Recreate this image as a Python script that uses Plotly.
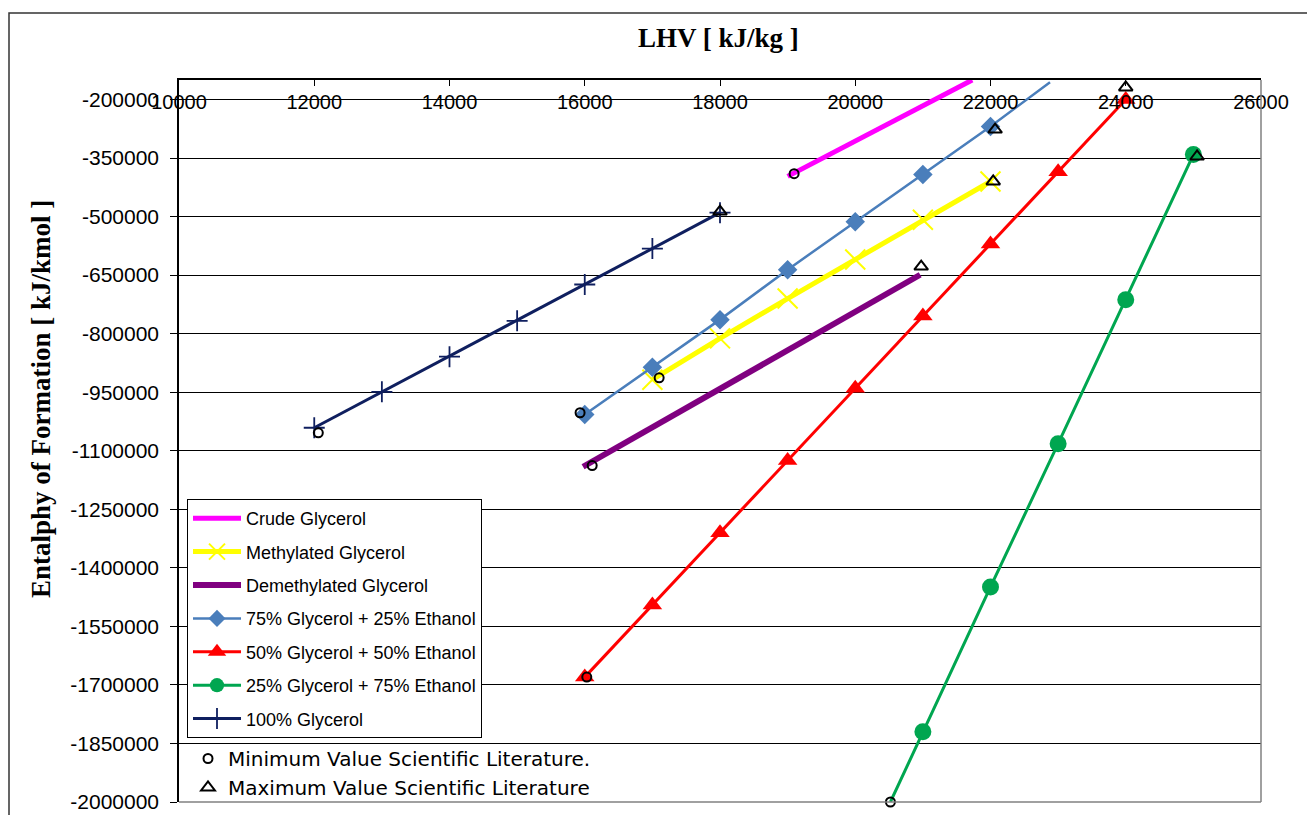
import plotly.graph_objects as go

# ---------------- data ----------------
crude_x = [19000, 21730]
crude_y = [-397000, -150000]

meth_x = [17000, 18000, 19000, 20000, 21000, 22000]
meth_y = [-918000, -812000, -710000, -610000, -508000, -410000]

demeth_x = [15975, 20960]
demeth_y = [-1141000, -649000]

g75_x = [16000, 17000, 18000, 19000, 20000, 21000, 22000, 22880]
g75_y = [-1007000, -886000, -764000, -636000, -513000, -392000, -269000, -156000]

g50_x = [16000, 17000, 18000, 19000, 20000, 21000, 22000, 23000, 24000]
g50_y = [-1680000, -1495000, -1310000, -1125000, -940000, -755000, -570000, -385000, -200000]

g25_x = [20520, 21000, 22000, 23000, 24000, 25000]
g25_y = [-2000000, -1820000, -1449000, -1082000, -713000, -341000]

g100_x = [12000, 13000, 14000, 15000, 16000, 17000, 18000]
g100_y = [-1041000, -949000, -859000, -767000, -674000, -582000, -490000]

lit_min_x = [12060, 19096, 15931, 17100, 16110, 16030, 20520]
lit_min_y = [-1054000, -390000, -1002600, -913000, -1138000, -1680000, -2000000]

lit_max_x = [18000, 21760, 22068, 22880, 22040, 20975, 24000, 25055]
lit_max_y = [-487000, -138000, -277000, -149000, -410000, -628000, -169000, -346000]

x_ticks = list(range(10000, 26001, 2000))
y_ticks = list(range(-2000000, -199999, 150000))

# ---------------- figure ----------------
OFF = 8                      # page body margin of the browser
W, H = 1315 - OFF, 815 - OFF
L, R, T, B = 179 - OFF, 1261 - OFF, 80 - OFF, 802 - OFF

fig = go.Figure()

def add_line(name, xs, ys, color, width, symbol=None, msize=0, mline=0, sizes=None, grp=None):
    mode = "lines+markers" if symbol else "lines"
    marker = None
    if symbol:
        marker = dict(symbol=symbol, size=sizes if sizes else msize, color=color, opacity=1,
                      line=dict(color=color, width=mline))
    fig.add_trace(go.Scatter(x=xs, y=ys, mode=mode, name=name,
                             line=dict(color=color, width=width),
                             marker=marker, legendgroup=grp, legend="legend"))

add_line("Crude Glycerol", crude_x, crude_y, "#FF00FF", 5, grp="a")
add_line("Methylated Glycerol", meth_x, meth_y, "#FFFF00", 5, symbol="x-thin", msize=20, mline=2, grp="b")
add_line("Demethylated Glycerol", demeth_x, demeth_y, "#800080", 6, grp="c")
add_line("75% Glycerol + 25% Ethanol", g75_x, g75_y, "#4A7EBB", 2.5, symbol="diamond",
         sizes=[15] * 7 + [0], grp="d")
add_line("50% Glycerol + 50% Ethanol", g50_x, g50_y, "#FF0000", 3, symbol="triangle-up", msize=17, grp="e")
add_line("25% Glycerol + 75% Ethanol", g25_x, g25_y, "#00A650", 3, symbol="circle",
         sizes=[0] + [17] * 5, grp="f")
add_line("100% Glycerol", g100_x, g100_y, "#0F1F5F", 3, symbol="cross-thin", msize=15, mline=1.8, grp="g")

fig.add_trace(go.Scatter(x=lit_min_x, y=lit_min_y, mode="markers",
                         name="Minimum Value Scientific Literature.",
                         marker=dict(symbol="circle-open", size=9, color="black", line=dict(width=2)),
                         cliponaxis=False, legend="legend2"))
fig.add_trace(go.Scatter(x=lit_max_x, y=lit_max_y, mode="markers",
                         name="Maximum Value Scientific Literature",
                         marker=dict(symbol="triangle-up-open", size=12, color="black", line=dict(width=2)),
                         cliponaxis=False, legend="legend2"))

# screen pixel -> paper coordinates
def px_x(p):
    return (p - OFF - L) / (R - L)

def px_y(p):
    return (B - (p - OFF)) / (B - T)

fig.update_layout(
    template="none",
    width=W, height=H,
    margin=dict(l=L, r=W - R, t=T, b=H - B, pad=0, autoexpand=False),
    paper_bgcolor="white", plot_bgcolor="white",
    font=dict(family="Arial, Liberation Sans", size=20, color="black"),
    xaxis=dict(range=[10000, 26000], side="top", tickvals=x_ticks,
               ticktext=[str(v) for v in x_ticks],
               ticks="inside", ticklen=6, tickcolor="black",
               ticklabelposition="inside", ticklabeloverflow="allow",
               ticklabelstandoff=10,
               showline=True, linecolor="black", linewidth=1.5,
               showgrid=False, zeroline=False, automargin=False,
               tickfont=dict(family="Arial, Liberation Sans", size=20, color="black")),
    yaxis=dict(range=[-2000000, -150000], tickvals=y_ticks,
               ticktext=[str(v) for v in y_ticks],
               ticks="outside", ticklen=7, tickcolor="black",
               ticklabelstandoff=7,
               showline=True, linecolor="black", linewidth=1.5,
               showgrid=True, gridcolor="black", gridwidth=1, zeroline=False,
               automargin=False,
               tickfont=dict(family="Arial, Liberation Sans", size=21, color="black")),
    showlegend=True,
    legend=dict(x=px_x(187), y=px_y(499), xanchor="left", yanchor="top",
                bgcolor="white", bordercolor="black", borderwidth=1,
                font=dict(family="Arial, Liberation Sans", size=18, color="black"),
                traceorder="grouped", tracegroupgap=7, itemwidth=48,
                itemclick=False),
    legend2=dict(x=px_x(188), y=px_y(739), xanchor="left", yanchor="top",
                 bgcolor="rgba(255,255,255,0)", borderwidth=0,
                 font=dict(family="DejaVu Sans", size=20, color="black"),
                 tracegroupgap=2, itemwidth=30),
    annotations=[
        dict(text="<b>LHV [ kJ/kg ]</b>", x=718, y=38, xref="paper", yref="paper",
             showarrow=False, font=dict(family="Liberation Serif, Times New Roman", size=27)),
        dict(text="<b>Entalphy of Formation [ kJ/kmol ]</b>", x=41, y=399,
             xref="paper", yref="paper", textangle=-90, showarrow=False,
             font=dict(family="Liberation Serif, Times New Roman", size=27)),
    ],
)

anns = list(fig.layout.annotations)
for a in anns:
    a.x = px_x(a.x)
    a.y = px_y(a.y)
    a.xanchor = "center"
    a.yanchor = "middle"
fig.layout.annotations = anns

fig.add_shape(type="line", xref="paper", yref="paper", x0=1, x1=1, y0=0, y1=1,
              line=dict(color="#808080", width=1.5))
fig.add_shape(type="line", xref="paper", yref="paper", x0=0, x1=1, y0=0, y1=0,
              line=dict(color="#808080", width=1.5))
fig.add_shape(type="rect", xref="paper", yref="paper",
              x0=px_x(9), x1=px_x(1313), y0=px_y(830), y1=px_y(13),
              line=dict(color="#333333", width=1.5), layer="below")

fig.write_html("out.html")
